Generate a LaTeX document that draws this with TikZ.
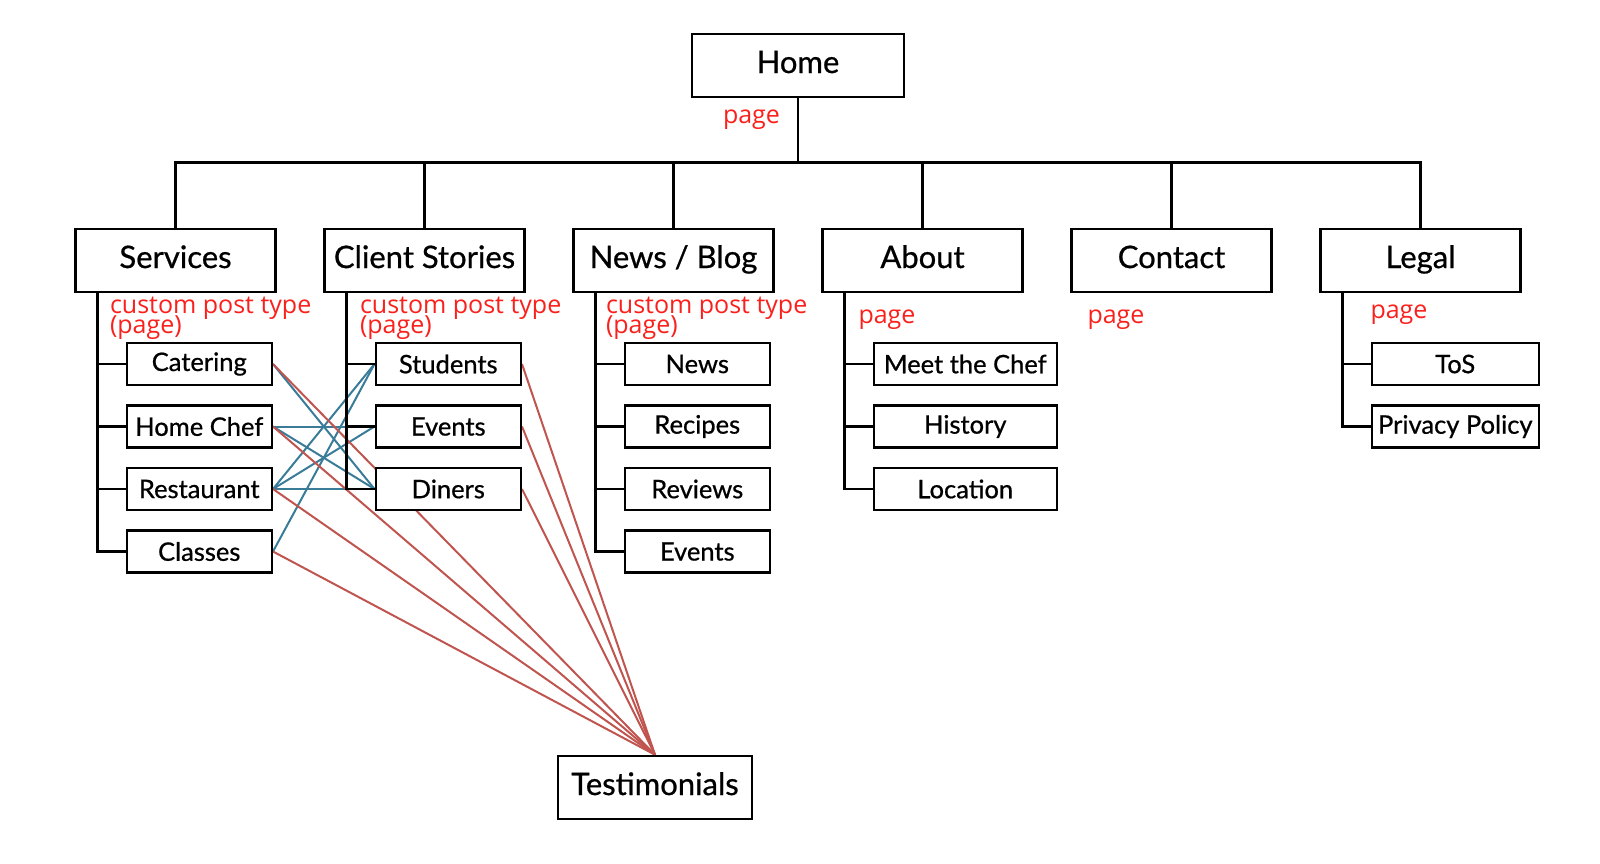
\documentclass[tikz,border=0pt]{standalone}
\usepackage{fontspec}
\setmainfont{Lato}[FakeBold=0.7]
\newfontfamily\notefont{Open Sans}
\usetikzlibrary{trees,backgrounds}

\definecolor{linkblue}{RGB}{58,124,152}
\definecolor{linkred}{RGB}{192,84,78}
\definecolor{notered}{RGB}{250,32,28}

\tikzset{
  secbox/.style={draw, fill=white, line width=2.5pt, minimum width=200pt,
      minimum height=63pt, inner sep=0pt, text height=23pt, text depth=8pt,
      font=\fontsize{31}{36}\selectfont},
  leafbox/.style={draw, fill=white, line width=2.5pt, minimum width=145pt,
      minimum height=42pt, inner sep=0pt, anchor=west,
      font=\fontsize{25.5}{30}\selectfont},
  note/.style={text=notered, inner sep=0pt, align=left, anchor=base west,
      font=\notefont\fontsize{25}{21}\selectfont},
  bluelink/.style={linkblue, line width=2pt},
  redlink/.style={linkred, line width=2pt}
}

\begin{document}
\begin{tikzpicture}[line width=2.5pt,
            level 1/.style={sibling distance=249pt, level distance=195pt,
                edge from parent path={(\tikzparentnode.south) -- ++(0,-64pt) -| (\tikzchildnode.north)}},
            level 2/.style={grow via three points={one child at (-50pt,-103.5pt) and
                two children at (-50pt,-103.5pt) and (-50pt,-166pt)},
                edge from parent path={([xshift=23pt]\tikzparentnode.south west) |- (\tikzchildnode.west)}}]
\useasboundingbox (0,0) rectangle (1600pt,-863pt);

\node[secbox, minimum width=212pt] (home) at (798pt,-65.5pt) {Home}
    child {node[secbox] (services) {Services}
        child {node[leafbox] (catering) {Catering}}
        child {node[leafbox] (homechef) {Home Chef}}
        child {node[leafbox] (restaurant) {Restaurant}}
        child {node[leafbox] (classes) {Classes}}
    }
    child {node[secbox] (stories) {Client Stories}
        child {node[leafbox] (students) {Students}}
        child {node[leafbox] (events) {Events}}
        child {node[leafbox] (diners) {Diners}}
    }
    child {node[secbox] (news) {News / Blog}
        child {node[leafbox] (newsitem) {News}}
        child {node[leafbox] (recipes) {Recipes}}
        child {node[leafbox] (reviews) {Reviews}}
        child {node[leafbox] (newsevents) {Events}}
    }
    child {node[secbox] (about) {About}
        child {node[leafbox, minimum width=183pt] (chef) {Meet the Chef}}
        child {node[leafbox, minimum width=183pt] (history) {History}}
        child {node[leafbox, minimum width=183pt] (location) {Location}}
    }
    child {node[secbox] (contact) {Contact}}
    child {node[secbox] (legal) {Legal}
        child {node[leafbox, minimum width=167pt] (tos) {ToS}}
        child {node[leafbox, minimum width=167pt] (privacy) {Privacy Policy}}
    };

\node[secbox, minimum width=194pt] (testimonials) at (655pt,-787.5pt) {Testimonials};

% red notes
\node[note] (homenote) at ([shift={(31pt,-25pt)}]home.south west) {page};
\node[note] (servicesnote) at ([shift={(34.5pt,-40pt)}]services.south west) {custom post type\\[-5pt](page)};
\node[note] (storiesnote) at ([shift={(35.5pt,-40pt)}]stories.south west) {custom post type\\[-5pt](page)};
\node[note] (newsnote) at ([shift={(32.5pt,-40pt)}]news.south west) {custom post type\\[-5pt](page)};
\node[note] (aboutnote) at ([shift={(36pt,-30pt)}]about.south west) {page};
\node[note] (contactnote) at ([shift={(16pt,-30pt)}]contact.south west) {page};
\node[note] (legalnote) at ([shift={(50pt,-25pt)}]legal.south west) {page};

% links
\begin{scope}[on background layer]
\foreach \a/\b in {catering/diners, homechef/events, homechef/diners, restaurant/students,
                   restaurant/events, restaurant/diners, classes/students}
    \draw[bluelink] (\a.east) -- (\b.west);
\foreach \a in {catering, homechef, restaurant, classes, students, events, diners}
    \draw[redlink] (\a.east) -- (testimonials.north);
\end{scope}

\end{tikzpicture}
\end{document}
